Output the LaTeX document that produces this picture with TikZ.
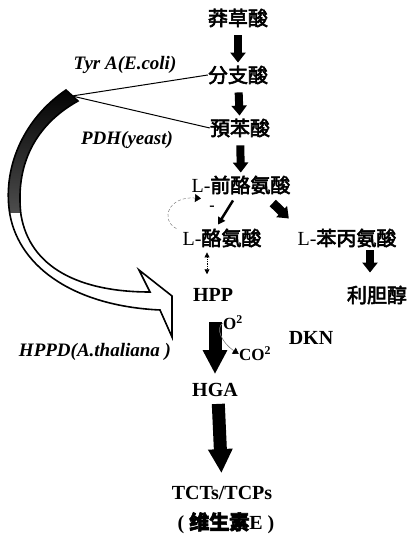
\documentclass[tikz,border=0pt]{standalone}
\usepackage{fontspec}
\setmainfont{Liberation Serif}
\newfontfamily\cjk[FakeBold=3]{Noto Sans CJK SC}
\usetikzlibrary{arrows.meta}
\usetikzlibrary{positioning}

\begin{document}
\begin{tikzpicture}[x=1pt,y=-1pt,
    cn node/.style={font=\fontsize{20}{21}\selectfont\cjk,inner sep=0pt},
    en node/.style={font=\fontsize{20}{21}\selectfont\bfseries,inner sep=0pt},
    enzyme node/.style={font=\fontsize{19}{20}\selectfont\bfseries\itshape,inner sep=0pt},
    fat arrow/.style={line width=8pt,-{Triangle[width=15pt,length=10pt]},shorten <=8pt,shorten >=3pt},
    big arrow/.style={line width=13pt,-{Triangle[width=23pt,length=24pt]}},
    thin arrow/.style={line width=2.5pt,-{Triangle[width=8pt,length=7pt]}}]
  \useasboundingbox (0,0) rectangle (409,537);

  % main pathway
  \node[cn node] (shik) at (238,18) {莽草酸};
  \node[cn node] (chor) at (238,75) {分支酸};
  \node[cn node] (preph) at (240,128) {預苯酸};
  \node[cn node] (arog) at (241,185) {{\rmfamily L-}前酪氨酸};
  \node[cn node] (tyr) at (222,238) {{\rmfamily L-}酪氨酸};
  \node[cn node] (phe) at (347,238) {{\rmfamily L-}苯丙氨酸};
  \node[cn node] (lidan) at (377,295) {利胆醇};
  \node[en node] (hpp) at (213,295) {HPP};
  \node[en node] (hga) at (215,390) {HGA};
  \node[en node] (tct) at (222,493) {TCTs/TCPs};
  \node[en node] (vite) at (226,523) {( {\cjk 维生素}E )};
  \node[en node,font=\fontsize{16}{16}\selectfont\bfseries] (inhib) at (212,208) {-};
  \node[en node,font=\fontsize{17}{18}\selectfont\bfseries] (o2) at (233,323) {O\textsuperscript{2}};
  \node[en node,font=\fontsize{17}{18}\selectfont\bfseries] (co2) at (255,354) {CO\textsuperscript{2}};
  \node[en node] (dkn) at (311,338) {DKN};

  % enzymes
  \node[enzyme node] (tyra) at (125,65) {Tyr A(E.coli)};
  \node[enzyme node] (pdh) at (127,140) {PDH(yeast)};
  \node[enzyme node] (hppd) at (95,352) {HPPD(A.thaliana )};

  \path[fat arrow] (shik) edge (chor);
  \path[fat arrow] (chor) edge (preph);
  \path[fat arrow] (preph) edge (arog);
  \path[fat arrow,line width=9pt] ([xshift=26pt,yshift=-3pt]arog.south) edge ([xshift=-56pt,yshift=8pt]phe.north);
  \path[thin arrow] ([xshift=-8pt,yshift=-6pt]arog.south) edge ([xshift=-4pt,yshift=4pt]tyr.north);
  \path[fat arrow,shorten <=3pt,shorten >=13pt] ([xshift=23pt]phe.south) edge ([xshift=-7pt]lidan.north);
  \path[big arrow,shorten <=20pt,shorten >=9pt] ([xshift=2pt]hpp.south) edge (hga.north);
  \path[big arrow,shorten <=7pt,shorten >=13pt] ([xshift=3pt]hga.south) edge (tct.north);

  % feedback and side reactions
  \draw[densely dashed,line width=0.5pt,gray,-{Triangle[width=8pt,length=6pt,black]}]
    ([xshift=-6pt]tyr.north west) .. controls (160,220) and (168,196) .. ([xshift=-40pt,yshift=-4pt]arog.south);
  \draw[densely dotted,line width=0.8pt,{Triangle[width=5pt,length=5pt]}-{Triangle[width=5pt,length=5pt]}]
    ([xshift=-15pt,yshift=-5pt]tyr.south) -- ([xshift=-6pt,yshift=14pt]hpp.north);
  \draw[line width=0.6pt,gray,-{Triangle[width=7pt,length=6pt,black]}]
    (o2.west) .. controls (215,328) and (222,343) .. (co2.west);

  % enzyme arrow
  \coordinate (hook) at (72,96);
  \draw[line width=1pt] (hook) -- (chor.west);
  \draw[line width=1pt] (hook) -- (preph.west);
  \begin{scope}
    \path[clip] (66,90) .. controls (22,120) and (2,170) .. (10,215)
      .. controls (20,268) and (75,306) .. (160,310) -- (172,337) -- (172,296) -- (139,270) -- (150,292)
      .. controls (80,292) and (30,268) .. (21,215) .. controls (15,165) and (35,125) .. (78,101) -- cycle;
    \shade[top color=black,bottom color=black!70] (0,85) rectangle (90,212);
  \end{scope}
  \draw[line width=1.6pt,line join=miter] (66,90) .. controls (22,120) and (2,170) .. (10,215)
    .. controls (20,268) and (75,306) .. (160,310) -- (172,337) -- (172,296) -- (139,270) -- (150,292)
    .. controls (80,292) and (30,268) .. (21,215) .. controls (15,165) and (35,125) .. (78,101) -- cycle;
\end{tikzpicture}
\end{document}
